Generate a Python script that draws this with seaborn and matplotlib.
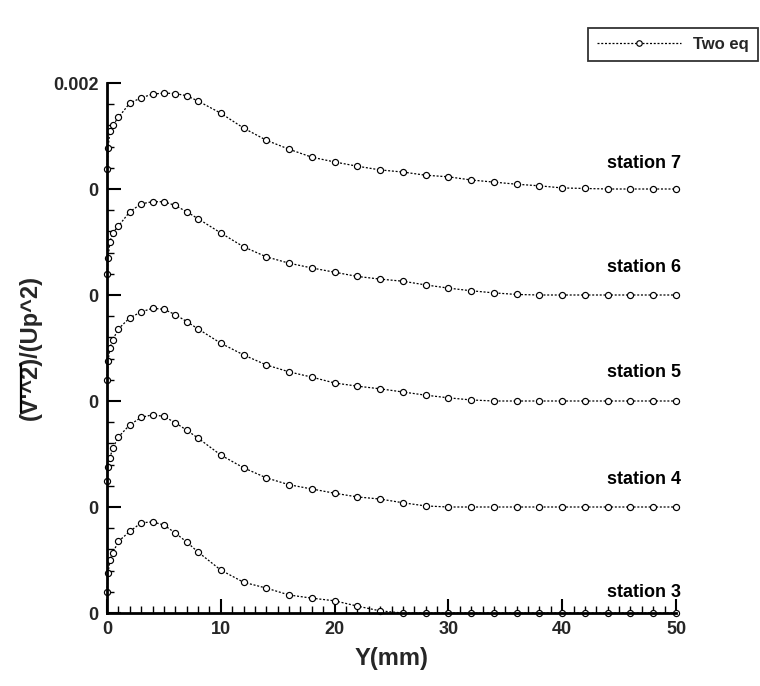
import matplotlib
matplotlib.use("Agg")
import matplotlib.pyplot as plt
from matplotlib.lines import Line2D
from matplotlib.ticker import MultipleLocator
from matplotlib.transforms import IdentityTransform
import numpy as np
import pandas as pd
import seaborn as sns

# ---------------- data (values in units of 1e-3) ----------------
y_mm = [0, 0.1, 0.25, 0.5, 1, 2, 3, 4, 5, 6, 7, 8,
        10, 12, 14, 16, 18, 20, 22, 24, 26, 28, 30,
        32, 34, 36, 38, 40, 42, 44, 46, 48, 50]

station3 = [0.40, 0.75, 1.00, 1.13, 1.35, 1.54, 1.70, 1.72, 1.66, 1.51, 1.34, 1.15,
            0.81, 0.58, 0.47, 0.34, 0.28, 0.23, 0.13, 0.04,
            0, 0, 0, 0, 0, 0, 0, 0, 0, 0, 0, 0, 0]
station4 = [0.50, 0.75, 0.92, 1.11, 1.32, 1.55, 1.69, 1.74, 1.71, 1.59, 1.45, 1.30,
            0.98, 0.74, 0.55, 0.42, 0.34, 0.26, 0.19, 0.15, 0.08, 0.02,
            0, 0, 0, 0, 0, 0, 0, 0, 0, 0, 0]
station5 = [0.40, 0.75, 1.00, 1.15, 1.36, 1.57, 1.68, 1.75, 1.73, 1.63, 1.50, 1.36,
            1.09, 0.87, 0.68, 0.55, 0.45, 0.34, 0.28, 0.23, 0.17, 0.11, 0.06, 0.02,
            0, 0, 0, 0, 0, 0, 0, 0, 0]
station6 = [0.40, 0.70, 1.00, 1.17, 1.30, 1.57, 1.72, 1.76, 1.76, 1.69, 1.57, 1.44,
            1.17, 0.91, 0.72, 0.60, 0.51, 0.43, 0.35, 0.30, 0.26, 0.19, 0.13, 0.08,
            0.04, 0.01, 0, 0, 0, 0, 0, 0, 0]
station7 = [0.38, 0.77, 1.10, 1.20, 1.35, 1.62, 1.72, 1.79, 1.81, 1.80, 1.76, 1.66,
            1.43, 1.15, 0.92, 0.75, 0.60, 0.51, 0.43, 0.36, 0.32, 0.26, 0.23, 0.17,
            0.13, 0.09, 0.06, 0.02, 0.01, 0, 0, 0, 0]

station_names = ["station 3", "station 4", "station 5", "station 6", "station 7"]
station_values = [station3, station4, station5, station6, station7]
station_offsets = [0.0, 0.002, 0.004, 0.006, 0.008]
label_offsets = [0.00038, 0.00051, 0.00053, 0.00051, 0.00049]

ytick_values = [0.0, 0.002, 0.004, 0.006, 0.008, 0.010]
ytick_labels = ["0", "0", "0", "0", "0", "0.002"]
xtick_values = [0, 10, 20, 30, 40, 50]
legend_label = "Two eq"
ylabel_over = "V'^2"          # part of the y label under the overline
ylabel_text = "(" + ylabel_over + ")/(Up^2)"

rows = []
for name, vals, off in zip(station_names, station_values, station_offsets):
    for y, v in zip(y_mm, vals):
        rows.append({"station": name, "Y": y, "val": v * 1e-3 + off})
df = pd.DataFrame(rows)

# ---------------- style ----------------
sns.set_theme(style="white")
plt.rcParams["font.family"] = ["Liberation Sans", "DejaVu Sans"]
plt.rcParams["font.weight"] = "bold"

fig = plt.figure(figsize=(7.6, 6.86), dpi=100)
ax = fig.add_axes([107 / 760, 73 / 686, 569 / 760, 530 / 686])

line_kw = dict(color="black", linewidth=0.9, linestyle=(0, (1.6, 1.4)),
               marker="o", markersize=4.4, markerfacecolor="white",
               markeredgecolor="black", markeredgewidth=0.85)

sns.lineplot(data=df, x="Y", y="val", units="station", estimator=None,
             sort=False, ax=ax, legend=False, **line_kw)
for ln in ax.lines:
    ln.set_clip_on(False)

ax.set_xlim(0, 50)
ax.set_ylim(0, 0.010)

for s in ["top", "right"]:
    ax.spines[s].set_visible(False)
for s in ["left", "bottom"]:
    ax.spines[s].set_linewidth(2.0)
    ax.spines[s].set_color("black")

ax.set_xticks(xtick_values)
ax.set_xticklabels([str(v) for v in xtick_values])
ax.set_yticks(ytick_values)
ax.set_yticklabels(ytick_labels)
ax.xaxis.set_minor_locator(MultipleLocator(1))
ax.yaxis.set_minor_locator(MultipleLocator(0.0004))
ax.tick_params(axis="both", which="major", direction="in", length=10,
               width=1.5, color="black", labelsize=13, pad=6)
ax.tick_params(axis="both", which="minor", direction="in", length=5,
               width=1.0, color="black")
ax.tick_params(axis="y", which="both", left=True)
ax.tick_params(axis="x", which="both", bottom=True)
for lab in ax.get_xticklabels() + ax.get_yticklabels():
    lab.set_fontweight("bold")

ax.set_xlabel("Y(mm)", fontsize=17, fontweight="bold")
ax.xaxis.set_label_coords(0.5, -0.064)
ax.xaxis.label.set_va("top")

ax.set_ylabel(ylabel_text, fontsize=17, fontweight="bold")
ax.yaxis.set_label_coords(-0.114, 0.5)

for name, off, loff in zip(station_names, station_offsets, label_offsets):
    ax.text(50.4, off + loff, name, ha="right", va="center", fontsize=13,
            fontweight="bold", color="black", clip_on=False)

handle = Line2D([], [], **line_kw)
fig.legend([handle], [legend_label], loc="lower right",
           bbox_to_anchor=(758 / 760, 1 - 61 / 686),
           bbox_transform=fig.transFigure, borderaxespad=0,
           fancybox=False, frameon=True, edgecolor="black",
           prop={"size": 12, "weight": "bold"}, handlelength=5.0,
           handletextpad=0.75, borderpad=0.55, markerscale=0.9)
leg = fig.legends[0]
leg.get_frame().set_linewidth(1.3)

# overline above "V'^2" in the rotated y label
fig.canvas.draw()
renderer = fig.canvas.get_renderer()
lab = ax.yaxis.label
bb = lab.get_window_extent(renderer)
tmp1 = fig.text(0, 0, "(", fontsize=17, fontweight="bold")
tmp2 = fig.text(0, 0, "(" + ylabel_over, fontsize=17, fontweight="bold")
w1 = tmp1.get_window_extent(renderer).width
w2 = tmp2.get_window_extent(renderer).width
tmp1.remove()
tmp2.remove()
xo = bb.x0 + 2.0
fig.add_artist(Line2D([xo, xo], [bb.y0 + w1 + 0.5, bb.y0 + w2 + 0.5],
                      transform=IdentityTransform(), color="black",
                      linewidth=1.6))

fig.savefig("out.png", dpi=100, facecolor="white")
